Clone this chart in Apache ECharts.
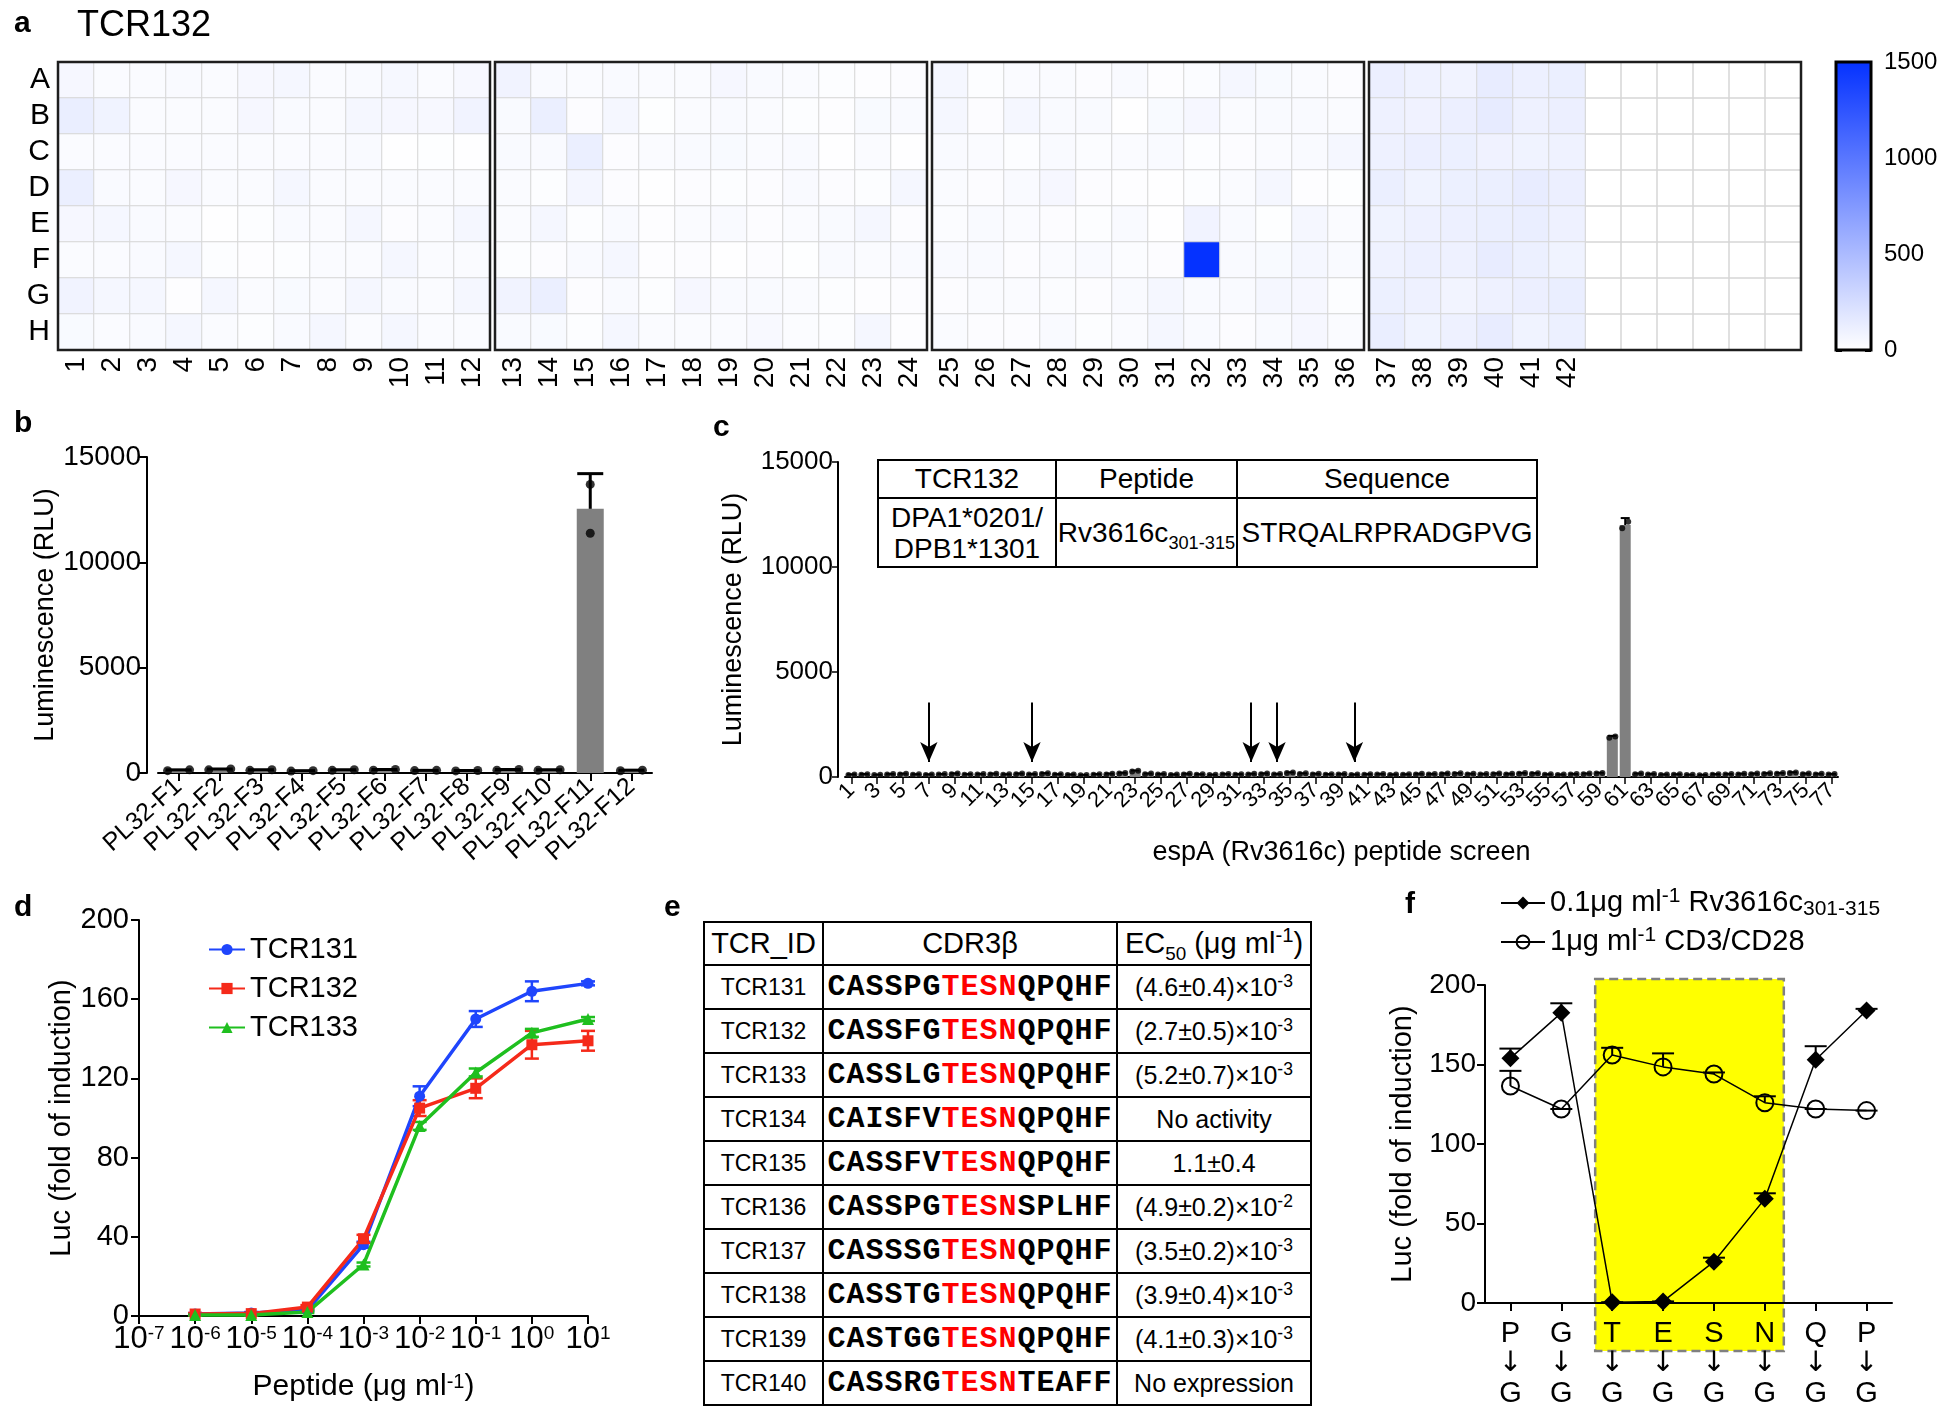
<!DOCTYPE html>
<html><head><meta charset="utf-8">
<script src="https://cdn.jsdelivr.net/npm/echarts/dist/echarts.min.js"></script>
<style>
html,body{margin:0;padding:0;background:#fff;}
#chart{position:absolute;left:0;top:0;width:1950px;height:1421px;}
table{border-collapse:collapse;position:absolute;table-layout:fixed;font-family:'Liberation Sans',Arial,sans-serif;color:#000;z-index:5;background:#fff;}
td{border:2.5px solid #000;text-align:center;padding:0;white-space:nowrap;}
sup{font-size:70%;vertical-align:super;line-height:0;}
sub{font-size:65%;vertical-align:sub;line-height:0;}
#tblC{left:877px;top:459px;width:659px;font-size:28px;}
#tblE{left:703px;top:921px;width:607px;}
.mono{font-family:'Liberation Mono','Courier New',monospace;font-weight:bold;font-size:30px;letter-spacing:1px;}
.motif{color:#ff0000;}
</style></head><body>
<div id="chart"></div>
<table id="tblC"></table>
<table id="tblE"></table>
<script>
// ---------- panel a: heatmap (values per row, peptide columns 1..42) ----------
const rowNames = ['A','B','C','D','E','F','G','H'];
const colLabels = ['1','2','3','4','5','6','7','8','9','10','11','12','13','14','15','16','17','18','19','20','21','22','23','24','25','26','27','28','29','30','31','32','33','34','35','36','37','38','39','40','41','42'];
const heatRowA = [55,30,28,35,32,50,58,30,35,52,30,48, 85,35,30,38,30,32,55,35,28,18,15,20, 62,18,32,30,20,38,15,22,58,40,30,20, 115,95,85,140,110,120];
const heatRowB = [125,88,32,30,28,55,35,30,58,55,50,85, 35,120,20,60,10,30,35,30,18,15,40,38, 60,20,62,35,38,8,40,55,30,35,38,32, 105,92,115,145,100,115];
const heatRowC = [30,32,28,30,28,30,32,30,35,8,10,5, 35,38,118,20,30,35,40,30,35,5,32,8, 35,28,18,38,22,32,38,18,20,30,35,60, 100,115,112,92,88,95];
const heatRowD = [118,35,30,55,30,30,58,30,32,30,30,28, 30,18,65,20,8,20,18,20,38,20,18,62, 30,20,38,55,20,12,5,18,30,58,15,10, 118,88,112,118,140,115];
const heatRowE = [55,58,35,28,5,18,35,30,60,20,32,58, 30,58,18,35,15,30,38,20,32,35,58,20, 22,35,32,20,18,35,8,85,38,10,60,32, 88,102,110,118,125,100];
const heatRowF = [30,28,35,58,18,15,18,30,32,62,30,30, 18,20,35,62,15,20,8,20,10,38,32,35, 38,38,20,32,35,22,20,1500,35,40,58,35, 95,110,100,140,112,90];
const heatRowG = [85,60,62,15,58,30,40,30,58,35,32,62, 85,118,20,35,18,55,38,35,30,18,15,20, 20,32,30,22,20,35,60,38,38,58,55,18, 112,100,78,102,115,125];
const heatRowH = [40,32,35,62,30,18,35,60,32,60,30,30, 38,40,18,58,30,32,32,45,22,18,58,15, 32,20,20,35,18,30,58,38,20,35,55,32, 125,88,102,140,90,112];
const colorbarTicks = [0, 500, 1000, 1500];

// ---------- panel b ----------
const bCats = ['PL32-F1','PL32-F2','PL32-F3','PL32-F4','PL32-F5','PL32-F6','PL32-F7','PL32-F8','PL32-F9','PL32-F10','PL32-F11','PL32-F12'];
const bVals = [130,170,140,100,140,150,120,110,150,140,12540,120];
const bRep1 = [110,150,125,90,125,135,115,100,135,125,13700,105];
const bRep2 = [150,190,155,110,155,165,125,120,165,155,11380,135];
const bErr  = [20,20,15,10,15,15,5,10,15,15,1670,15];

// ---------- panel c ----------
const cCats = ['1','2','3','4','5','6','7','8','9','10','11','12','13','14','15','16','17','18','19','20','21','22','23','24','25','26','27','28','29','30','31','32','33','34','35','36','37','38','39','40','41','42','43','44','45','46','47','48','49','50','51','52','53','54','55','56','57','58','59','60','61','62','63','64','65','66','67','68','69','70','71','72','73','74','75','76','77'];
const cVals = [110,120,100,130,140,120,110,130,150,120, 130,140,120,150,130,160,120,110,90,120, 140,180,280,150,130,110,140,120,100,130, 120,140,150,130,200,160,140,120,130,110, 120,130,110,120,140,130,150,160,140,130, 150,140,170,160,120,110,130,150,180,1900, 12000,150,130,110,120,100,90,120,130,140, 150,160,170,200,150,140,130];
const cRep1 = [95,105,90,115,125,110,95,120,135,105, 115,125,110,135,120,145,105,100,80,105, 125,165,260,135,115,100,125,110,90,115, 105,125,135,115,185,145,125,105,115,100, 105,115,100,110,125,115,135,145,125,115, 135,125,155,145,110,100,115,135,165,1870, 11850,135,115,100,110,90,80,105,115,125, 135,145,155,185,135,125,115];
const cRep2 = [125,135,110,145,155,130,125,140,165,135, 145,155,130,165,140,175,135,120,100,135, 155,195,300,165,145,120,155,130,110,145, 135,155,165,145,215,175,155,135,145,120, 135,145,120,130,155,145,165,175,155,145, 165,155,185,175,130,120,145,165,195,1930, 12150,165,145,120,130,110,100,135,145,155, 165,175,185,215,165,155,145];
const cErr = [20,25,15,20,25,15,20,15,25,20, 20,25,15,20,15,25,20,15,15,20, 25,25,30,20,20,15,20,15,15,20, 20,20,25,20,25,20,20,20,20,15, 20,20,15,15,20,20,25,25,20,20, 25,20,25,25,15,15,20,20,25,60, 330,20,20,15,15,15,15,20,20,20, 20,25,25,30,20,20,20];
const cArrowCats = ['7','15','32','34','40'];
const cArrowTop = 3550, cArrowTip = 720;
const cTableHead = ['TCR132','Peptide','Sequence'];
const cTableRow = ['DPA1*0201/<br>DPB1*1301','Rv3616c<sub>301-315</sub>','STRQALRPRADGPVG'];

// ---------- panel d ----------
const dX = [1e-6,1e-5,1e-4,1e-3,1e-2,1e-1,1,10];
const dTcr131 = [1,1.5,3,36,111,150,164,168];
const dErr131 = [0.5,0.5,0.5,1.5,5,4,5,1];
const dTcr132 = [1,1.2,4.5,39,105,115,137,139];
const dErr132 = [0.5,0.5,1,2,4,5,7,5];
const dTcr133 = [0.5,0.5,2,26,96,123,143,150];
const dErr133 = [0.3,0.3,0.5,1,2,2,2,1];

// ---------- panel e ----------
const eIds = ['TCR131','TCR132','TCR133','TCR134','TCR135','TCR136','TCR137','TCR138','TCR139','TCR140'];
const ePre = ['CASSPG','CASSFG','CASSLG','CAISFV','CASSFV','CASSPG','CASSSG','CASSTG','CASTGG','CASSRG'];
const eMotif = 'TESN';
const eSuf = ['QPQHF','QPQHF','QPQHF','QPQHF','QPQHF','SPLHF','QPQHF','QPQHF','QPQHF','TEAFF'];
const eEc50 = ['(4.6±0.4)×10<sup>-3</sup>','(2.7±0.5)×10<sup>-3</sup>','(5.2±0.7)×10<sup>-3</sup>','No activity','1.1±0.4','(4.9±0.2)×10<sup>-2</sup>','(3.5±0.2)×10<sup>-3</sup>','(3.9±0.4)×10<sup>-3</sup>','(4.1±0.3)×10<sup>-3</sup>','No expression'];

// ---------- panel f ----------
const fFrom = ['P','G','T','E','S','N','Q','P'];
const fTo   = ['G','G','G','G','G','G','G','G'];
const fPep = [154,182.5,0.5,1,26,65.5,153,184];
const fPepErr = [6,6,0,0,2.5,3.5,8.5,1];
const fCd3 = [136.5,122,156,148.5,144,126,122,121];
const fCd3Err = [9.5,0,4.5,8.5,1,4,0,0];

// ================= build tables =================
(function(){
  const tc = document.getElementById('tblC');
  tc.innerHTML = '<colgroup><col style="width:178px"><col style="width:181px"><col style="width:300px"></colgroup>' +
    '<tr style="height:38px">' + cTableHead.map(h=>'<td>'+h+'</td>').join('') + '</tr>' +
    '<tr style="height:69px;line-height:31px">' + cTableRow.map(h=>'<td>'+h+'</td>').join('') + '</tr>';
  const te = document.getElementById('tblE');
  let html = '<colgroup><col style="width:119px"><col style="width:294px"><col style="width:194px"></colgroup>';
  html += '<tr style="height:43px;font-size:29px"><td>TCR_ID</td><td>CDR3β</td><td>EC<sub>50</sub> (μg ml<sup>-1</sup>)</td></tr>';
  for (let i=0;i<eIds.length;i++){
    html += '<tr style="height:44px"><td style="font-size:23px">'+eIds[i]+'</td><td class="mono">'+ePre[i]+'<span class="motif">'+eMotif+'</span>'+eSuf[i]+'</td><td style="font-size:25px">'+eEc50[i]+'</td></tr>';
  }
  te.innerHTML = html;
})();

// ================= chart =================
const FONT = "'Liberation Sans', Arial, sans-serif";
const chart = echarts.init(document.getElementById('chart'), null, {renderer:'canvas'});
const heatRows = [heatRowA,heatRowB,heatRowC,heatRowD,heatRowE,heatRowF,heatRowG,heatRowH];
const plateLeft = [58,495,932,1369];
const plain = v => String(v);

function plateData(p){
  const out=[];
  for(let c=0;c<12;c++){
    const g=p*12+c; if(g>=colLabels.length) continue;
    for(let r=0;r<8;r++) out.push([c,r,heatRows[r][g]]);
  }
  return out;
}
function errRender(color,width,capW,both){
  return function(params,api){
    const x=api.value(0), y=api.value(1), e=api.value(2);
    const t=api.coord([x,y+e]);
    const b=both?api.coord([x,y-e]):api.coord([x,y]);
    const st={stroke:color,lineWidth:width};
    const ch=[{type:'line',shape:{x1:t[0],y1:t[1],x2:b[0],y2:b[1]},style:st},
              {type:'line',shape:{x1:t[0]-capW/2,y1:t[1],x2:t[0]+capW/2,y2:t[1]},style:st}];
    if(both) ch.push({type:'line',shape:{x1:b[0]-capW/2,y1:b[1],x2:b[0]+capW/2,y2:b[1]},style:st});
    return {type:'group',children:ch};
  };
}
const axLine = {show:true,lineStyle:{color:'#000',width:2}};
const axTick = {show:true,length:8,lineStyle:{color:'#000',width:2}};
const grids=[], xAxes=[], yAxes=[], series=[];

// plates
for(let p=0;p<4;p++){
  grids.push({left:plateLeft[p],top:62,width:432,height:288,show:true,borderColor:'#1e1e1e',borderWidth:2.5,backgroundColor:'transparent',z:5,outerBoundsMode:'none'});
  xAxes.push({type:'category',gridIndex:p,data:[0,1,2,3,4,5,6,7,8,9,10,11],
    axisLine:{show:false},axisTick:{show:false},
    axisLabel:{interval:0,rotate:90,fontSize:28,margin:7,color:'#000',fontFamily:FONT,
      formatter:(v,i)=>colLabels[p*12+i]||''},
    splitLine:{show:true,interval:0,lineStyle:{color:'#d6d6d6',width:1.5}}});
  yAxes.push({type:'category',gridIndex:p,data:rowNames,inverse:true,
    axisLine:{show:false},axisTick:{show:false},
    axisLabel:{show:p===0,interval:0,fontSize:30,margin:8,color:'#000',fontFamily:FONT},
    splitLine:{show:true,interval:0,lineStyle:{color:'#d6d6d6',width:1.5}}});
  series.push({type:'heatmap',xAxisIndex:p,yAxisIndex:p,data:plateData(p),
    itemStyle:{borderColor:'#d6d6d6',borderWidth:1},emphasis:{disabled:true}});
}
// colorbar (grid 4)
grids.push({left:1836,top:62,width:35,height:288,show:true,borderColor:'#000',borderWidth:3,backgroundColor:'transparent',z:5,outerBoundsMode:'none'});
xAxes.push({type:'category',gridIndex:4,data:['cb'],show:false});
yAxes.push({type:'value',gridIndex:4,position:'right',min:0,max:1500,interval:500,
  axisLine:{show:false},axisTick:{show:true,inside:true,length:6,lineStyle:{color:'#000',width:3}},
  axisLabel:{fontSize:24,margin:13,color:'#000',fontFamily:FONT,formatter:plain},splitLine:{show:false}});
yAxes.push({type:'value',gridIndex:4,position:'left',min:0,max:1500,interval:500,
  axisLine:{show:false},axisTick:{show:true,inside:true,length:6,lineStyle:{color:'#000',width:3}},
  axisLabel:{show:false},splitLine:{show:false}});
series.push({type:'bar',xAxisIndex:4,yAxisIndex:4,data:[colorbarTicks[3]],barWidth:'100%',silent:true,
  itemStyle:{color:new echarts.graphic.LinearGradient(0,1,0,0,[{offset:0,color:'#ffffff'},{offset:1,color:'#0532ff'}])}});

// panel b (grid 5)
grids.push({left:158,top:457,width:494,height:316,outerBoundsMode:'none'});
xAxes.push({type:'category',gridIndex:5,data:bCats,axisLine:axLine,
  axisTick:Object.assign({alignWithLabel:true},axTick),
  axisLabel:{interval:0,rotate:42,fontSize:25,margin:10,color:'#000',fontFamily:FONT}});
yAxes.push({type:'value',gridIndex:5,min:0,max:15000,interval:5000,offset:11,axisLine:axLine,axisTick:axTick,
  axisLabel:{fontSize:28,margin:6,color:'#000',fontFamily:FONT,formatter:plain},splitLine:{show:false},
  name:'Luminescence (RLU)',nameLocation:'middle',nameGap:88,nameTextStyle:{fontSize:27,color:'#000',fontFamily:FONT}});
series.push({type:'bar',xAxisIndex:5,yAxisIndex:6,data:bVals,barWidth:27,itemStyle:{color:'#808080'}});
series.push({type:'custom',xAxisIndex:5,yAxisIndex:6,data:bVals.map((v,i)=>[i,v,bErr[i]]),renderItem:errRender('#000',3,26,false),z:4});
series.push({type:'scatter',xAxisIndex:5,yAxisIndex:6,symbolSize:9,itemStyle:{color:'#000'},z:5,
  data:bRep1.map((v,i)=>({value:[i,v],symbolOffset:[i===10?0:-11,0]}))});
series.push({type:'scatter',xAxisIndex:5,yAxisIndex:6,symbolSize:9,itemStyle:{color:'#000'},z:5,
  data:bRep2.map((v,i)=>({value:[i,v],symbolOffset:[i===10?0:11,0]}))});

// panel c (grid 6)
grids.push({left:845,top:462,width:993,height:315,outerBoundsMode:'none'});
xAxes.push({type:'category',gridIndex:6,data:cCats,axisLine:axLine,
  axisTick:{show:true,alignWithLabel:true,interval:1,length:7,lineStyle:{color:'#000',width:1.5}},
  axisLabel:{interval:0,rotate:45,fontSize:22,margin:10,color:'#000',fontFamily:FONT,hideOverlap:false,
    formatter:(v,i)=>(i%2===0?v:'')},
  name:'espA (Rv3616c) peptide screen',nameLocation:'middle',nameGap:62,nameTextStyle:{fontSize:27,color:'#000',fontFamily:FONT}});
yAxes.push({type:'value',gridIndex:6,min:0,max:15000,interval:5000,offset:7,axisLine:axLine,
  axisTick:{show:true,length:6,lineStyle:{color:'#000',width:1.5}},
  axisLabel:{fontSize:26,margin:5,color:'#000',fontFamily:FONT,formatter:plain},splitLine:{show:false},
  name:'Luminescence (RLU)',nameLocation:'middle',nameGap:91,nameTextStyle:{fontSize:27,color:'#000',fontFamily:FONT}});
series.push({type:'bar',xAxisIndex:6,yAxisIndex:7,data:cVals,barWidth:11,itemStyle:{color:'#808080'},
  markLine:{silent:true,symbol:['none','arrow'],symbolSize:[13,20],label:{show:false},
    lineStyle:{color:'#000',width:2,type:'solid'},animation:false,
    data:cArrowCats.map(c=>[{coord:[c,cArrowTop]},{coord:[c,cArrowTip]}])}});
series.push({type:'custom',xAxisIndex:6,yAxisIndex:7,data:cVals.map((v,i)=>[i,v,cErr[i]]),renderItem:errRender('#000',2,9,false),z:4});
series.push({type:'scatter',xAxisIndex:6,yAxisIndex:7,symbolSize:6,itemStyle:{color:'#000'},z:5,
  data:cRep1.map((v,i)=>({value:[i,v],symbolOffset:[-3,0]}))});
series.push({type:'scatter',xAxisIndex:6,yAxisIndex:7,symbolSize:6,itemStyle:{color:'#000'},z:5,
  data:cRep2.map((v,i)=>({value:[i,v],symbolOffset:[3,0]}))});

// panel d (grid 7)
const dRich = {n:{fontSize:31,fontFamily:FONT,color:'#000'},s:{fontSize:19,verticalAlign:'top',lineHeight:15,fontFamily:FONT,color:'#000'}};
grids.push({left:139,top:920,width:449,height:396,outerBoundsMode:'none'});
xAxes.push({type:'log',gridIndex:7,min:1e-7,max:10,logBase:10,splitNumber:8,axisLine:axLine,axisTick:axTick,
  axisLabel:{fontSize:31,margin:8,color:'#000',fontFamily:FONT,showMaxLabel:true,showMinLabel:true,hideOverlap:false,
    formatter:v=>'{n|10}{s|'+Math.round(Math.log10(v))+'}',rich:dRich},
  splitLine:{show:false},
  name:'{n|Peptide (μg ml}{s|-1}{n|)}',nameLocation:'middle',nameGap:56,
  nameTextStyle:{fontSize:30,color:'#000',fontFamily:FONT,rich:{n:{fontSize:30,fontFamily:FONT,color:'#000'},s:{fontSize:20,verticalAlign:'top',lineHeight:16,fontFamily:FONT,color:'#000'}}}});
yAxes.push({type:'value',gridIndex:7,min:0,max:200,interval:40,axisLine:axLine,axisTick:axTick,
  axisLabel:{fontSize:29,margin:10,color:'#000',fontFamily:FONT},splitLine:{show:false},
  name:'Luc (fold of induction)',nameLocation:'middle',nameGap:61,nameTextStyle:{fontSize:29,color:'#000',fontFamily:FONT}});
const dSeries = [['TCR131',dTcr131,dErr131,'#1f45fc','circle',11],['TCR132',dTcr132,dErr132,'#f52a1a','rect',11],['TCR133',dTcr133,dErr133,'#1fbf1f','triangle',12]];
dSeries.forEach(s=>{
  series.push({type:'custom',xAxisIndex:7,yAxisIndex:8,data:s[1].map((v,i)=>[dX[i],v,s[2][i]]),renderItem:errRender(s[3],2.5,14,true),z:3});
});
dSeries.forEach(s=>{
  series.push({name:s[0],type:'line',xAxisIndex:7,yAxisIndex:8,data:s[1].map((v,i)=>[dX[i],v]),
    symbol:s[4],symbolSize:s[5],lineStyle:{color:s[3],width:3.5},itemStyle:{color:s[3]},z:4});
});

// panel f (grid 8)
grids.push({left:1485,top:985,width:407,height:318,outerBoundsMode:'none'});
xAxes.push({type:'category',gridIndex:8,data:['0','1','2','3','4','5','6','7'],axisLine:axLine,
  axisTick:Object.assign({alignWithLabel:true},axTick),
  axisLabel:{interval:0,margin:16,color:'#000',fontFamily:FONT,
    formatter:(v,i)=>'{a|'+fFrom[i]+'}\n{b|↓}\n{a|'+fTo[i]+'}',
    rich:{a:{fontSize:29,lineHeight:30,fontFamily:FONT,color:'#000'},b:{fontSize:28,lineHeight:30,fontFamily:'DejaVu Sans',color:'#000'}}}});
yAxes.push({type:'value',gridIndex:8,min:0,max:200,interval:50,axisLine:axLine,axisTick:axTick,
  axisLabel:{fontSize:28,margin:9,color:'#000',fontFamily:FONT},splitLine:{show:false},
  name:'Luc (fold of induction)',nameLocation:'middle',nameGap:68,nameTextStyle:{fontSize:29,color:'#000',fontFamily:FONT}});
series.push({type:'custom',xAxisIndex:8,yAxisIndex:9,data:fPep.map((v,i)=>[i,v,fPepErr[i]]),renderItem:errRender('#000',2,22,false),z:3});
series.push({type:'custom',xAxisIndex:8,yAxisIndex:9,data:fCd3.map((v,i)=>[i,v,fCd3Err[i]]),renderItem:errRender('#000',2,22,false),z:3});
series.push({name:'pep',type:'line',xAxisIndex:8,yAxisIndex:9,data:fPep,symbol:'diamond',symbolSize:18,
  lineStyle:{color:'#000',width:1.5},itemStyle:{color:'#000'},z:4});
series.push({name:'cd3',type:'line',xAxisIndex:8,yAxisIndex:9,data:fCd3,symbol:'circle',symbolSize:17,
  lineStyle:{color:'#000',width:1.5},itemStyle:{color:'rgba(0,0,0,0)',borderColor:'#000',borderWidth:2},z:4});

const fRich = {t:{fontSize:29,fontFamily:FONT,color:'#000'},
  sp:{fontSize:21,verticalAlign:'top',lineHeight:14,fontFamily:FONT,color:'#000'},
  sb:{fontSize:21,verticalAlign:'bottom',lineHeight:16,fontFamily:FONT,color:'#000'}};
const option = {
  animation:false,
  backgroundColor:'#fff',
  textStyle:{fontFamily:FONT,color:'#000'},
  grid:grids, xAxis:xAxes, yAxis:yAxes, series:series,
  visualMap:{show:false,type:'continuous',min:0,max:1500,dimension:2,seriesIndex:[0,1,2,3],
    inRange:{color:['#ffffff','#0532ff']}},
  legend:[
    {data:['TCR131','TCR132','TCR133'],orient:'vertical',left:203,top:930,itemWidth:36,itemHeight:14,itemGap:10,
     textStyle:{fontSize:29,color:'#000',fontFamily:FONT}},
    {data:['pep','cd3'],orient:'vertical',left:1495,top:881,itemWidth:44,itemHeight:16,itemGap:5,
     formatter:n=>n==='pep'?'{t|0.1μg ml}{sp|-1}{t| Rv3616c}{sb|301-315}':'{t|1μg ml}{sp|-1}{t| CD3/CD28}',
     textStyle:{fontSize:29,color:'#000',fontFamily:FONT,lineHeight:34,rich:fRich}}
  ]
};
chart.setOption(option);

// annotation rectangle in panel f, placed through the axis scales
const pL = chart.convertToPixel({xAxisIndex:8,yAxisIndex:9},[2,200]);
const pR = chart.convertToPixel({xAxisIndex:8,yAxisIndex:9},[5,0]);
const rx0 = pL[0]-17, rx1 = pR[0]+19, ry0 = pL[1]-6, ry1 = pR[1]+48;
const txt = (id,t,l,tp,size,bold)=>({id:id,type:'text',left:l,top:tp,z:10,
  style:{text:t,font:(bold?'bold ':'')+size+'px '+FONT,fill:'#000'}});
chart.setOption({graphic:[
  {id:'yellow',type:'rect',z:-1,shape:{x:rx0,y:ry0,width:rx1-rx0,height:ry1-ry0},
   style:{fill:'#ffff00',stroke:'#808080',lineWidth:2.5,lineDash:[9,5]}},
  txt('la','a',14,9,30,true),
  txt('ttl','TCR132',77,8,36,false),
  txt('lb','b',14,409,30,true),
  txt('lc','c',713,413,30,true),
  txt('ld','d',14,893,30,true),
  txt('le','e',664,893,30,true),
  txt('lf','f',1405,890,30,true)
]});
</script>
</body></html>
